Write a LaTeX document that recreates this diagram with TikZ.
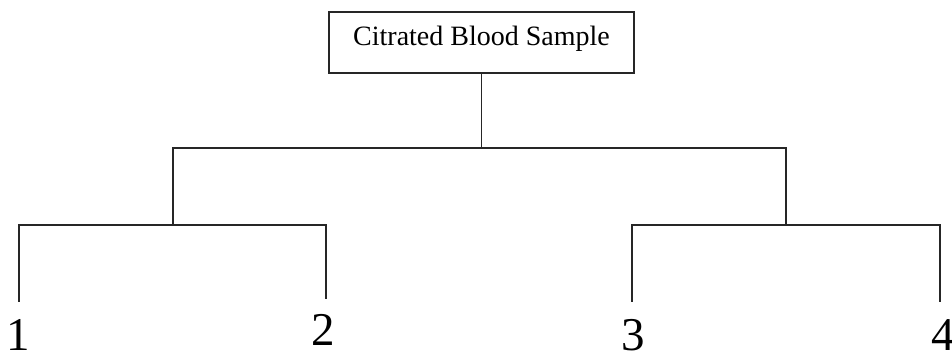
\documentclass[tikz,border=0pt]{standalone}
\usepackage{fontspec}
\setmainfont{Liberation Serif}
\begin{document}
\begin{tikzpicture}[x=1pt, y=-1pt, line width=1.6pt,
  wire/.style={draw=black!85, line cap=rect},
  samplebox/.style={draw=black!85, line width=1.6pt, minimum width=305pt, minimum height=61pt, inner sep=0pt},
  boxtext/.style={anchor=base, inner sep=0pt, font=\fontsize{28}{32}\selectfont},
  leaf/.style={anchor=base, inner sep=0pt, text depth=0pt, font=\fontsize{47}{50}\selectfont}]
\useasboundingbox (0,0) rectangle (952,351);

% root box and its caption
\node[samplebox] (root) at (481.5,42.5) {};
\node[boxtext] (rootlabel) at (481.5,45) {Citrated Blood Sample};

% junction points of the tree
\coordinate (hub)  at (481.5,148);
\coordinate (busL) at (173,148);
\coordinate (busR) at (786,148);
\coordinate (lm)   at (173,225);
\coordinate (rm)   at (786,225);
\coordinate (l1)   at (19,225);
\coordinate (l2)   at (326,225);
\coordinate (r3)   at (632,225);
\coordinate (r4)   at (940,225);
\coordinate (e1)   at (19,301);
\coordinate (e2)   at (326,298);
\coordinate (e3)   at (632,301);
\coordinate (e4)   at (940,301);

% connectors
\draw[wire] (root.south) -- (hub);
\draw[wire] (lm) -- (busL) -- (busR) -- (rm);
\draw[wire] (e1) -- (l1) -- (l2) -- (e2);
\draw[wire] (e3) -- (r3) -- (r4) -- (e4);

% leaf labels
\node[leaf] (n1) at (18,350.5) {1};
\node[leaf] (n2) at (323.5,345) {2};
\node[leaf] (n3) at (633,350.5) {3};
\node[leaf] (n4) at (943,350.5) {4};
\end{tikzpicture}
\end{document}
